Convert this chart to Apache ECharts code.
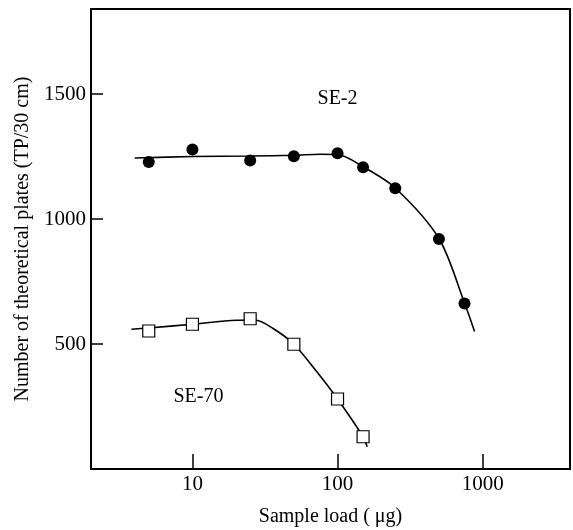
<!DOCTYPE html>
<html>
<head>
<meta charset="utf-8">
<script src="https://cdn.jsdelivr.net/npm/echarts@6/dist/echarts.min.js"></script>
<style>
    html, body { margin: 0; padding: 0; background: #fff; }
    #main { width: 573px; height: 530px; }
</style>
</head>
<body>
<div id="main"></div>
<script>
// 测量点 (样品量 µg, 理论塔板数)
var se2Load = [5, 10, 25, 50, 100, 150, 250, 500, 750];
var se2Plates = [1228, 1278, 1234, 1251, 1263, 1207, 1123, 920, 662];
var se70Load = [5, 10, 25, 50, 100, 150];
var se70Plates = [552, 579, 601, 499, 280, 129];

// 拟合曲线
var se2FitLoad = [4, 10, 25, 50, 76, 100, 150, 250, 500, 750, 880];
var se2FitPlates = [1244, 1250, 1252, 1255, 1259, 1258, 1209, 1124, 922, 664, 550];
var se70FitLoad = [3.8, 5, 10, 20, 27, 36, 50, 72, 100, 150, 160];
var se70FitPlates = [559, 564, 579, 595, 596, 562, 499, 389, 280, 129, 89];

// 曲线名称标注
var tagNames = ['SE-2', 'SE-70'];
var tagLoad = [100, 11];
var tagPlates = [1480, 290];

function pairs(xs, ys) {
    return xs.map(function (x, i) { return [x, ys[i]]; });
}

var font = '"Liberation Serif", "DejaVu Serif", serif';
var ink = '#000';

var myChart = echarts.init(document.getElementById('main'));

var option = {
    animation: false,
    backgroundColor: '#fff',
    //网格设置
    grid: {
        left: 91,
        right: 3,
        top: 9,
        bottom: 61,
        outerBoundsMode: 'none',
        containLabel: false,
        show: true,
        borderColor: ink,
        borderWidth: 2
    },
    // x 轴 (对数)
    xAxis: {
        type: 'log',
        logBase: 10,
        min: 2,
        max: 4000,
        name: 'Sample load ( \u03bcg)',
        nameLocation: 'middle',
        nameGap: 38,
        nameTextStyle: { fontFamily: font, fontSize: 20, color: ink },
        axisLine: { lineStyle: { color: ink, width: 2 } },
        axisTick: { inside: true, length: 15, lineStyle: { color: ink, width: 1.5 } },
        axisLabel: {
            margin: 5,
            showMinLabel: false,
            showMaxLabel: false,
            fontFamily: font,
            fontSize: 21,
            color: ink,
            formatter: function (v) { return String(Math.round(v)); }
        },
        splitLine: { show: false },
        minorTick: { show: false }
    },
    // y 轴
    yAxis: {
        type: 'value',
        min: 0,
        max: 1840,
        interval: 500,
        name: 'Number of theoretical plates (TP/30 cm)',
        nameLocation: 'middle',
        nameGap: 53,
        nameTextStyle: { fontFamily: font, fontSize: 20, color: ink },
        axisLine: { lineStyle: { color: ink, width: 2 } },
        axisTick: { inside: true, length: 12, lineStyle: { color: ink, width: 1.5 } },
        axisLabel: {
            margin: 5,
            showMinLabel: false,
            showMaxLabel: false,
            fontFamily: font,
            fontSize: 21,
            color: ink,
            formatter: function (v) { return String(v); }
        },
        splitLine: { show: false }
    },
    series: [{
        name: 'SE-2 fit',
        type: 'line',
        smooth: 0.3,
        symbol: 'none',
        lineStyle: { color: ink, width: 1.6 },
        data: pairs(se2FitLoad, se2FitPlates),
        z: 2
    }, {
        name: 'SE-70 fit',
        type: 'line',
        smooth: 0.3,
        symbol: 'none',
        lineStyle: { color: ink, width: 1.6 },
        data: pairs(se70FitLoad, se70FitPlates),
        z: 2
    }, {
        name: 'SE-2',
        type: 'scatter',
        symbol: 'circle',
        symbolSize: 12,
        itemStyle: { color: '#000', opacity: 1 },
        data: pairs(se2Load, se2Plates),
        z: 3
    }, {
        name: 'SE-70',
        type: 'scatter',
        symbol: 'rect',
        symbolSize: 12,
        itemStyle: { color: '#fff', borderColor: '#000', borderWidth: 1.2, opacity: 1 },
        data: pairs(se70Load, se70Plates),
        z: 3
    }, {
        name: 'tags',
        type: 'scatter',
        symbolSize: 0,
        silent: true,
        itemStyle: { opacity: 1 },
        label: {
            show: true,
            position: 'inside',
            formatter: '{b}',
            fontFamily: font,
            fontSize: 20,
            color: ink
        },
        data: tagNames.map(function (n, i) {
            return { name: n, value: [tagLoad[i], tagPlates[i]] };
        }),
        z: 4
    }]
};

myChart.setOption(option);
</script>
</body>
</html>
